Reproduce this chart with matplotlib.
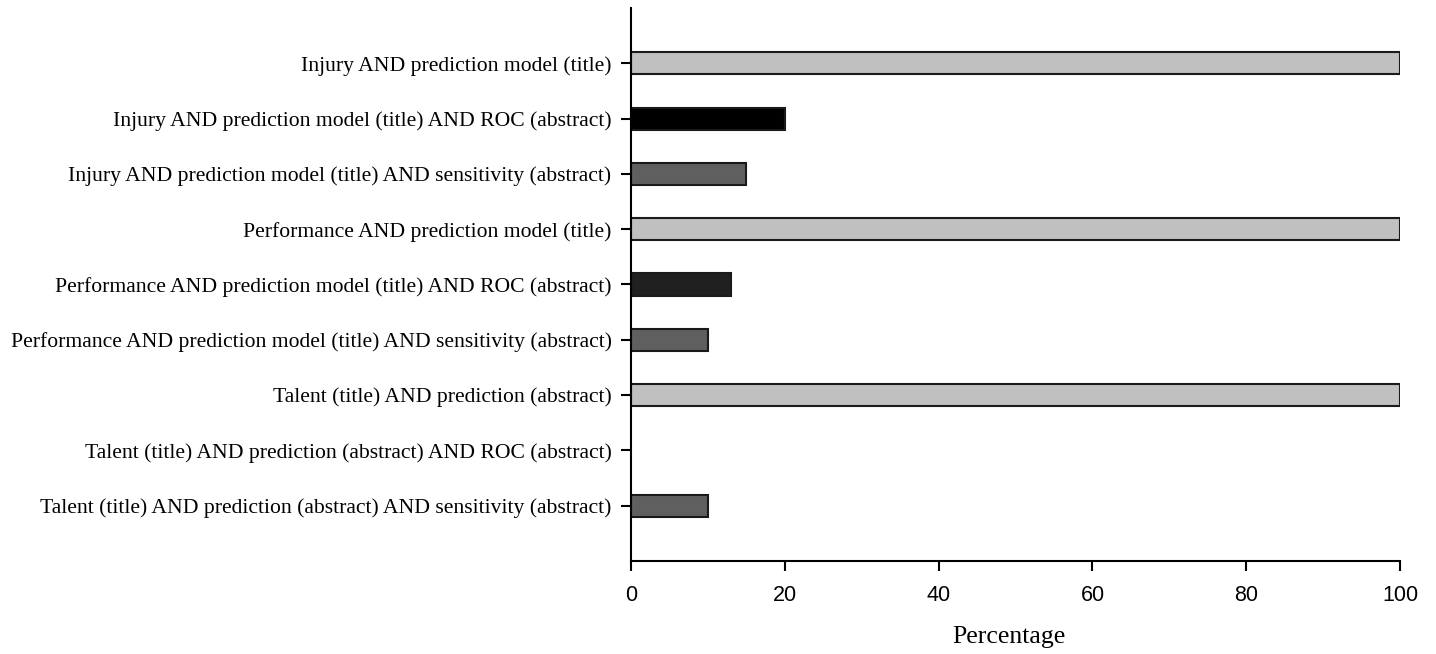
import matplotlib
matplotlib.use("Agg")
import matplotlib.pyplot as plt

categories = [
    "Injury AND prediction model (title)",
    "Injury AND prediction model (title) AND ROC (abstract)",
    "Injury AND prediction model (title) AND sensitivity (abstract)",
    "Performance AND prediction model (title)",
    "Performance AND prediction model (title) AND ROC (abstract)",
    "Performance AND prediction model (title) AND sensitivity (abstract)",
    "Talent (title) AND prediction (abstract)",
    "Talent (title) AND prediction (abstract) AND ROC (abstract)",
    "Talent (title) AND prediction (abstract) AND sensitivity (abstract)",
]
values = [100, 20, 15, 100, 13, 10, 100, 0, 10]
colors = ["#c0c0c0", "#000000", "#5f5f5f", "#c0c0c0", "#202020", "#5f5f5f",
          "#c0c0c0", "#000000", "#5f5f5f"]
xticks = [0, 20, 40, 60, 80, 100]

fig = plt.figure(figsize=(14.36, 6.54), dpi=100)
ax = fig.add_axes([0.4394, 0.1422, 0.5356, 0.8456])

ypos = list(range(len(categories)))
for y, v, c in zip(ypos, values, colors):
    if v > 0:
        ax.barh(y, v, height=0.4, color=c, edgecolor="#1a1a1a", linewidth=1.5)

ax.set_ylim(len(categories), -1)
ax.set_xlim(0, 100)
ax.set_yticks(ypos)
ax.set_yticklabels(categories, fontfamily="Liberation Serif", fontsize=15.6)
ax.set_xticks(xticks)
ax.set_xticklabels([str(t) for t in xticks], fontfamily="Liberation Sans", fontsize=15.5)
ax.tick_params(axis="both", direction="out", length=7, width=1.5)
ax.tick_params(axis="x", pad=10)
ax.tick_params(axis="y", pad=7)
for s in ["top", "right"]:
    ax.spines[s].set_visible(False)
for s in ["left", "bottom"]:
    ax.spines[s].set_linewidth(1.5)
ax.set_xlabel("Percentage", fontfamily="Liberation Serif", fontsize=18.5)
ax.xaxis.label.set_va("center")
ax.xaxis.set_label_coords(0.492, -0.138)

fig.savefig("out.png", dpi=100)
